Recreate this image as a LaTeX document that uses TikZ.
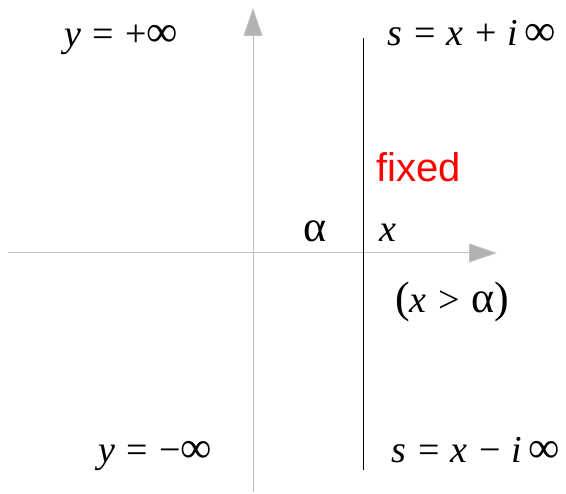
\documentclass[tikz,border=0pt]{standalone}
\usepackage{fontspec}
\setmainfont{Liberation Serif}
\newfontfamily\sansf{Liberation Sans}
\usetikzlibrary{arrows.meta}
\newcommand{\vi}[1]{\textit{#1}}
\newcommand{\gapsp}{\hspace{0.3em}}
\newcommand{\inft}{{\fontsize{44}{44}\selectfont ∞}}
\newcommand{\alp}{{\fontsize{44}{44}\selectfont α}}
\begin{document}
\begin{tikzpicture}[x=1pt,y=-1pt,
  axis/.style={draw=black!25,line width=1pt,-{Triangle[length=28pt,width=19pt,fill=black!30]}},
  lbl/.style={font=\fontsize{38}{40}\selectfont,anchor=base,inner sep=0pt},
  redlbl/.style={font=\sansf\fontsize{40}{42}\selectfont,text=red,anchor=base,inner sep=0pt}]
\useasboundingbox (0,0) rectangle (566,494);
\coordinate (hs) at (8,253);
\coordinate (he) at (497,253);
\coordinate (vs) at (253,492);
\coordinate (ve) at (253,8);
\coordinate (ls) at (363,38);
\coordinate (le) at (363,470);
\draw[axis] (hs) -- (he);
\draw[axis] (vs) -- (ve);
\draw[black,line width=1pt] (ls) -- (le);
\node[lbl] (yp) at (121,47) {\vi{y}\gapsp=\gapsp+\inft};
\node[lbl] (sp) at (472,46) {\vi{s}\gapsp=\gapsp\vi{x}\gapsp+\gapsp\vi{i}\,\inft};
\node[redlbl] (fx) at (419,182) {fixed};
\node[lbl] (al) at (315,242) {\alp};
\node[lbl] (xx) at (388,242) {\vi{x}};
\node[lbl] (cond) at (452,313) {{\fontsize{44}{44}\selectfont(}\vi{x}\gapsp>\gapsp\alp{\fontsize{44}{44}\selectfont)}};
\node[lbl] (ym) at (155,463) {\vi{y}\gapsp=\gapsp−\inft};
\node[lbl] (sm) at (476,463) {\vi{s}\gapsp=\gapsp\vi{x}\gapsp−\gapsp\vi{i}\,\inft};
\end{tikzpicture}
\end{document}
